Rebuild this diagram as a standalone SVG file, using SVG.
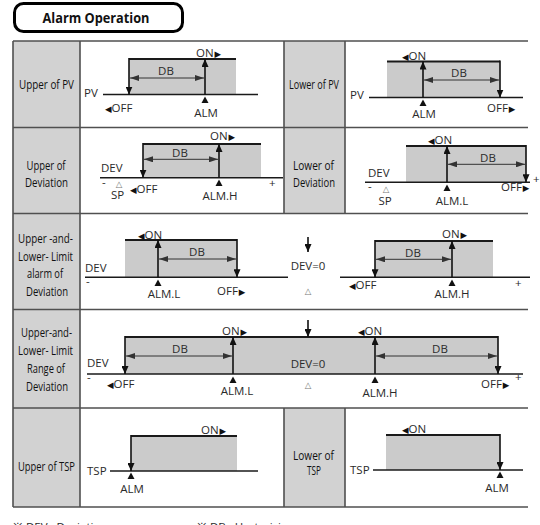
<svg xmlns="http://www.w3.org/2000/svg" width="540" height="525" viewBox="0 0 540 525">
<style>
.cell{fill:#d2d2d2}
.grid{stroke:#505050;stroke-width:1.6;fill:none}
.band{fill:#cbcbcb}
.top{stroke:#1a1a1a;stroke-width:2}
.axis{stroke:#1a1a1a;stroke-width:1.5}
.v{stroke:#111;stroke-width:1.6;marker-end:url(#ah)}
.db{stroke:#333;stroke-width:1;marker-start:url(#dh);marker-end:url(#dh)}
.tri{fill:#111}
.t{font-family:"Open Sans",sans-serif;font-size:11.5px;fill:#2a2a2a}
.c{text-anchor:middle}
.lbl{font-family:"Open Sans",sans-serif;font-size:13.5px;fill:#111;text-anchor:middle}
.g{font-family:"DejaVu Sans",sans-serif;font-size:8.5px;fill:#111}
.h{font-family:"DejaVu Sans",sans-serif;font-size:8.5px;fill:#777;text-anchor:middle}
</style>
<defs>
<marker id="ah" markerUnits="userSpaceOnUse" markerWidth="8" markerHeight="7" refX="8" refY="3.5" orient="auto"><path d="M0,0 L8,3.5 L0,7 z" fill="#111"/></marker>
<marker id="dh" markerUnits="userSpaceOnUse" markerWidth="9" markerHeight="6" refX="9" refY="3" orient="auto-start-reverse"><path d="M0,0 L9,3 L0,6 z" fill="#333"/></marker>
</defs>

<g id="title">
<rect x="14.5" y="3.5" width="168" height="28" rx="9" fill="#fff" stroke="#000" stroke-width="3"/>
<text x="96" y="23" font-family="Open Sans,sans-serif" font-weight="bold" font-size="15" text-anchor="middle" textLength="107" lengthAdjust="spacingAndGlyphs" fill="#111">Alarm Operation</text>
</g>

<g id="table">
<rect class="cell" x="13" y="41" width="67" height="466"/>
<rect class="cell" x="284" y="41" width="61" height="172.5"/>
<rect class="cell" x="284" y="408" width="61" height="99"/>
<path class="grid" d="M13,41 H528 M13,127.5 H528 M13,213.5 H528 M13,309.5 H528 M13,408 H528 M13,507 H528 M13,41 V507 M80,41 V507 M284,41 V213.5 M345,41 V213.5 M284,408 V507 M345,408 V507"/>
</g>

<g id="labels">
<text class="lbl" transform="translate(46.5,89) scale(0.78,1)" textLength="70.5" lengthAdjust="spacingAndGlyphs">Upper of PV</text>
<text class="lbl" transform="translate(314,89) scale(0.78,1)" textLength="64.1" lengthAdjust="spacingAndGlyphs">Lower of PV</text>
<text class="lbl" transform="translate(46,170) scale(0.78,1)" textLength="50" lengthAdjust="spacingAndGlyphs">Upper of</text>
<text class="lbl" transform="translate(46.5,187) scale(0.78,1)" textLength="55.1" lengthAdjust="spacingAndGlyphs">Deviation</text>
<text class="lbl" transform="translate(313.5,170) scale(0.78,1)" textLength="52.6" lengthAdjust="spacingAndGlyphs">Lower of</text>
<text class="lbl" transform="translate(314,187) scale(0.78,1)" textLength="53.8" lengthAdjust="spacingAndGlyphs">Deviation</text>
<text class="lbl" transform="translate(45.5,243) scale(0.78,1)" textLength="70.5" lengthAdjust="spacingAndGlyphs">Upper -and-</text>
<text class="lbl" transform="translate(45.5,261) scale(0.78,1)" textLength="70.5" lengthAdjust="spacingAndGlyphs">Lower- Limit</text>
<text class="lbl" transform="translate(45,278) scale(0.78,1)" textLength="46.2" lengthAdjust="spacingAndGlyphs">alarm of</text>
<text class="lbl" transform="translate(47,296) scale(0.78,1)" textLength="53.8" lengthAdjust="spacingAndGlyphs">Deviation</text>
<text class="lbl" transform="translate(46.5,337) scale(0.78,1)" textLength="65.4" lengthAdjust="spacingAndGlyphs">Upper-and-</text>
<text class="lbl" transform="translate(45.5,355) scale(0.78,1)" textLength="70.5" lengthAdjust="spacingAndGlyphs">Lower- Limit</text>
<text class="lbl" transform="translate(46,373) scale(0.78,1)" textLength="48.7" lengthAdjust="spacingAndGlyphs">Range of</text>
<text class="lbl" transform="translate(47,391) scale(0.78,1)" textLength="53.8" lengthAdjust="spacingAndGlyphs">Deviation</text>
<text class="lbl" transform="translate(46.5,471) scale(0.78,1)" textLength="73.1" lengthAdjust="spacingAndGlyphs">Upper of TSP</text>
<text class="lbl" transform="translate(313.5,460) scale(0.78,1)" textLength="52.6" lengthAdjust="spacingAndGlyphs">Lower of</text>
<text class="lbl" transform="translate(314,475) scale(0.78,1)" textLength="17.9" lengthAdjust="spacingAndGlyphs">TSP</text>
</g>

<g id="connectors">
<!-- row1 left -->
<rect class="band" x="129" y="59" width="107" height="35.5"/>
<line class="axis" x1="103" y1="94.5" x2="258" y2="94.5"/>
<line class="top" x1="129" y1="59" x2="236" y2="59"/>
<line class="v" x1="129" y1="58" x2="129" y2="94.5"/>
<line class="v" x1="205" y1="94.5" x2="205" y2="59"/>
<line class="db" x1="130" y1="78" x2="204" y2="78"/>
<polygon class="tri" points="201.5,103 208.5,103 205,96.5"/>
<!-- row1 right -->
<rect class="band" x="387" y="61.5" width="113" height="36"/>
<line class="axis" x1="369" y1="97.5" x2="523" y2="97.5"/>
<line class="top" x1="387" y1="61.5" x2="500" y2="61.5"/>
<line class="v" x1="423" y1="97.5" x2="423" y2="61.5"/>
<line class="v" x1="500" y1="60.5" x2="500" y2="97.5"/>
<line class="db" x1="424" y1="80" x2="499" y2="80"/>
<polygon class="tri" points="419.5,106 426.5,106 423,99.5"/>
<!-- row2 left -->
<rect class="band" x="143" y="144" width="118" height="33.7"/>
<line class="axis" x1="100" y1="177.7" x2="283" y2="177.7"/>
<line class="top" x1="143" y1="144" x2="261" y2="144"/>
<line class="v" x1="143" y1="143" x2="143" y2="177.7"/>
<line class="v" x1="219" y1="177.7" x2="219" y2="144"/>
<line class="db" x1="144" y1="159.3" x2="218" y2="159.3"/>
<polygon class="tri" points="215.5,186 222.5,186 219,179.5"/>
<!-- row2 right -->
<rect class="band" x="406" y="146" width="120" height="36.3"/>
<line class="axis" x1="365" y1="182.3" x2="530" y2="182.3"/>
<line class="top" x1="406" y1="146" x2="526" y2="146"/>
<line class="v" x1="447" y1="182.3" x2="447" y2="146"/>
<line class="v" x1="526" y1="145" x2="526" y2="182.3"/>
<line class="db" x1="448" y1="164.3" x2="525" y2="164.3"/>
<polygon class="tri" points="443.5,191 450.5,191 447,184.5"/>
<!-- row3 -->
<rect class="band" x="125" y="240" width="112" height="37.3"/>
<rect class="band" x="375" y="241" width="118" height="36.3"/>
<line class="axis" x1="85" y1="277.3" x2="288" y2="277.3"/>
<line class="axis" x1="340" y1="277.3" x2="530" y2="277.3"/>
<line class="top" x1="125" y1="240" x2="237" y2="240"/>
<line class="top" x1="375" y1="241" x2="493" y2="241"/>
<line class="v" x1="158" y1="277.3" x2="158" y2="240"/>
<line class="v" x1="237" y1="239" x2="237" y2="277.3"/>
<line class="db" x1="159" y1="259" x2="236" y2="259"/>
<polygon class="tri" points="154.5,286 161.5,286 158,279.5"/>
<line class="v" x1="308" y1="237" x2="308" y2="252"/>
<line class="v" x1="375" y1="240" x2="375" y2="277.3"/>
<line class="v" x1="452" y1="277.3" x2="452" y2="241"/>
<line class="db" x1="376" y1="259.3" x2="451" y2="259.3"/>
<polygon class="tri" points="448.5,286 455.5,286 452,279.5"/>
<!-- row4 -->
<rect class="band" x="125" y="337" width="373" height="37"/>
<line class="axis" x1="87" y1="374" x2="523" y2="374"/>
<line class="top" x1="125" y1="337" x2="498" y2="337"/>
<line class="v" x1="125" y1="336" x2="125" y2="374"/>
<line class="v" x1="233" y1="374" x2="233" y2="337"/>
<line class="db" x1="126" y1="356" x2="232" y2="356"/>
<polygon class="tri" points="229.5,383 236.5,383 233,376.5"/>
<line class="v" x1="308" y1="320" x2="308" y2="337"/>
<line class="v" x1="375" y1="374" x2="375" y2="337"/>
<line class="v" x1="498" y1="336" x2="498" y2="374"/>
<line class="db" x1="376" y1="356" x2="497" y2="356"/>
<polygon class="tri" points="371.5,383 378.5,383 375,376.5"/>
<!-- row5 left -->
<rect class="band" x="131" y="436" width="106" height="35"/>
<line class="axis" x1="110" y1="471" x2="258" y2="471"/>
<line class="top" x1="131" y1="436" x2="237" y2="436"/>
<line class="v" x1="131" y1="435" x2="131" y2="471"/>
<polygon class="tri" points="127.5,479 134.5,479 131,472.5"/>
<!-- row5 right -->
<rect class="band" x="386" y="435" width="114" height="35"/>
<line class="axis" x1="373" y1="470" x2="523" y2="470"/>
<line class="top" x1="386" y1="435" x2="500" y2="435"/>
<line class="v" x1="500" y1="434" x2="500" y2="470"/>
<polygon class="tri" points="496.5,478 503.5,478 500,471.5"/>
</g>

<g id="texts">
<!-- row1 left -->
<text class="t" x="84" y="97">PV</text>
<text class="t" x="196" y="57">ON<tspan class="g" dx="1">▶</tspan></text>
<text class="t" x="105" y="112"><tspan class="g">◀</tspan>OFF</text>
<text class="t c" x="206" y="117">ALM</text>
<text class="t c" x="166" y="75">DB</text>
<!-- row1 right -->
<text class="t" x="350" y="99">PV</text>
<text class="t" x="402" y="60"><tspan class="g">◀</tspan>ON</text>
<text class="t" x="487" y="112">OFF<tspan class="g" dx="1">▶</tspan></text>
<text class="t c" x="424" y="118">ALM</text>
<text class="t c" x="459" y="77">DB</text>
<!-- row2 left -->
<text class="t" x="101" y="172">DEV</text>
<text class="t" x="102" y="186">-</text>
<text class="h" x="119" y="187">△</text>
<text class="t" x="111" y="199">SP</text>
<text class="t" x="130" y="193"><tspan class="g">◀</tspan>OFF</text>
<text class="t" x="210" y="140">ON<tspan class="g" dx="1">▶</tspan></text>
<text class="t c" x="220" y="200">ALM.H</text>
<text class="t c" x="180" y="157">DB</text>
<text class="t" x="269" y="187">+</text>
<!-- row2 right -->
<text class="t" x="368" y="177">DEV</text>
<text class="t" x="368" y="190">-</text>
<text class="h" x="386" y="192">△</text>
<text class="t c" x="385" y="205">SP</text>
<text class="t" x="428" y="144"><tspan class="g">◀</tspan>ON</text>
<text class="t c" x="452" y="205">ALM.L</text>
<text class="t" x="501" y="191">OFF<tspan class="g" dx="1">▶</tspan></text>
<text class="t c" x="488" y="162">DB</text>
<text class="t" x="533" y="183">+</text>
<!-- row3 -->
<text class="t" x="85" y="272">DEV</text>
<text class="t" x="86" y="285">-</text>
<text class="t" x="138" y="239"><tspan class="g">◀</tspan>ON</text>
<text class="t c" x="197" y="256">DB</text>
<text class="t c" x="164" y="298">ALM.L</text>
<text class="t" x="217" y="295">OFF<tspan class="g" dx="1">▶</tspan></text>
<text class="t c" x="308" y="270">DEV=0</text>
<text class="h" x="308" y="294">△</text>
<text class="t" x="349" y="289"><tspan class="g">◀</tspan>OFF</text>
<text class="t" x="442" y="238">ON<tspan class="g" dx="1">▶</tspan></text>
<text class="t c" x="413" y="257">DB</text>
<text class="t c" x="452" y="298">ALM.H</text>
<text class="t" x="515" y="287">+</text>
<!-- row4 -->
<text class="t" x="87" y="367">DEV</text>
<text class="t" x="87" y="381">-</text>
<text class="t" x="107" y="388"><tspan class="g">◀</tspan>OFF</text>
<text class="t" x="222" y="335">ON<tspan class="g" dx="1">▶</tspan></text>
<text class="t c" x="180" y="353">DB</text>
<text class="t c" x="237" y="395">ALM.L</text>
<text class="t c" x="308" y="368">DEV=0</text>
<text class="h" x="308" y="388">△</text>
<text class="t" x="358" y="335"><tspan class="g">◀</tspan>ON</text>
<text class="t c" x="440" y="353">DB</text>
<text class="t c" x="380" y="397">ALM.H</text>
<text class="t" x="481" y="388">OFF<tspan class="g" dx="1">▶</tspan></text>
<text class="t" x="515" y="381">+</text>
<!-- row5 -->
<text class="t" x="87" y="475">TSP</text>
<text class="t" x="201" y="434">ON<tspan class="g" dx="1">▶</tspan></text>
<text class="t c" x="132" y="493">ALM</text>
<text class="t" x="350" y="474">TSP</text>
<text class="t" x="402" y="433"><tspan class="g">◀</tspan>ON</text>
<text class="t c" x="497" y="492">ALM</text>
</g>

<g id="notes">
<text class="t" x="13" y="531">※ DEV : Deviation</text>
<text class="t" x="197" y="531">※ DB : Hysterisis</text>
</g>
</svg>
